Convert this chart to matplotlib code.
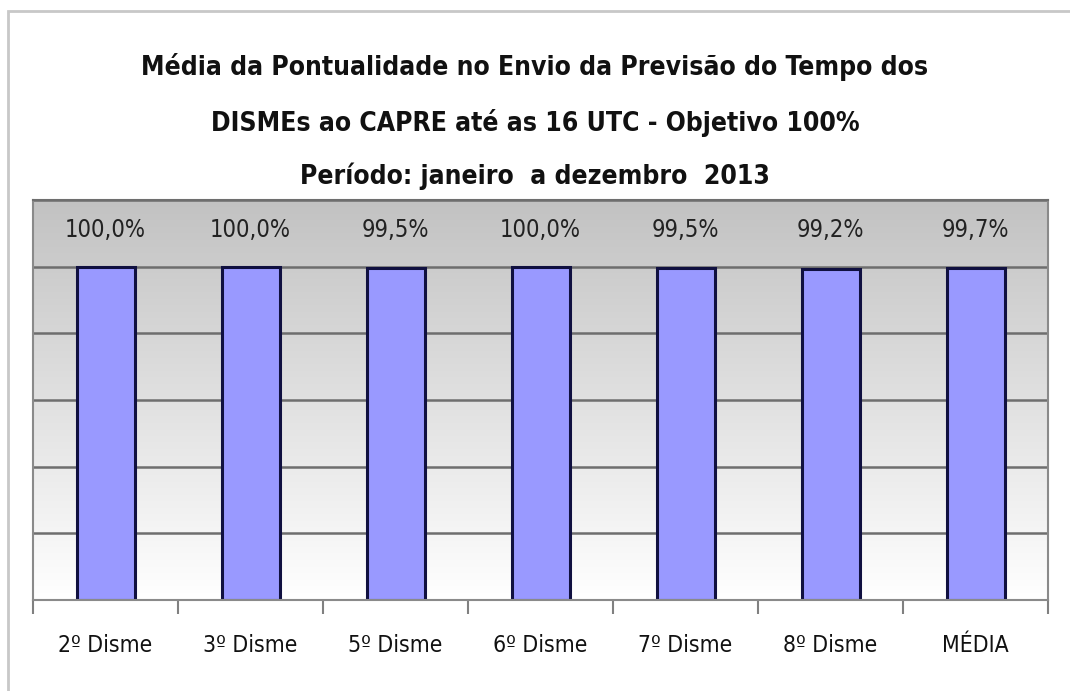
import numpy as np
import matplotlib.pyplot as plt
from matplotlib.colors import LinearSegmentedColormap
from matplotlib.patches import Rectangle

categories = ['2º Disme', '3º Disme', '5º Disme', '6º Disme', '7º Disme', '8º Disme', 'MÉDIA']
values = [100.0, 100.0, 99.5, 100.0, 99.5, 99.2, 99.7]
labels = ['100,0%', '100,0%', '99,5%', '100,0%', '99,5%', '99,2%', '99,7%']
title_lines = ['Média da Pontualidade no Envio da Previsão do Tempo dos',
               'DISMEs ao CAPRE até as 16 UTC - Objetivo 100%',
               'Período: janeiro  a dezembro  2013']

FONT = ['DejaVu Sans']
STRETCH = 'condensed'

fig = plt.figure(figsize=(10.7, 6.91), dpi=100, facecolor='white')
ax = fig.add_axes([33 / 1070, 91 / 691, 1015 / 1070, 400 / 691])

x = np.arange(len(categories))
ax.set_xlim(-0.5, len(categories) - 0.5)
ax.set_ylim(0, 120)

# gray-to-white gradient background like the old Excel chart
grad = np.linspace(0.0, 1.0, 256).reshape(-1, 1)
cmap = LinearSegmentedColormap.from_list('g', ['#ffffff', '#c2c2c2'])
ax.imshow(grad, extent=(-0.5, len(categories) - 0.5, 0, 120), aspect='auto',
          cmap=cmap, origin='lower', zorder=0, vmin=0, vmax=1)

for yv in range(20, 121, 20):
    ax.axhline(yv, color='#6e6e6e', lw=1.8, zorder=1)

ax.bar(x, values, width=0.4, color='#9999ff', edgecolor='#101040', linewidth=2.2, zorder=2)

for xi, lab in zip(x, labels):
    ax.text(xi, 111, lab, ha='center', va='center', fontsize=17, family=FONT,
            fontstretch=STRETCH, color='#222222', zorder=3)

ax.set_yticks([])
ax.set_xticks(np.arange(-0.5, len(categories), 1.0))
ax.set_xticklabels([])
ax.tick_params(axis='x', direction='out', length=10, width=1.5, color='#808080')
for xi, cat in zip(x, categories):
    ax.text(xi, -13.5, cat, ha='center', va='center', fontsize=16.5, family=FONT,
            fontstretch=STRETCH, color='#111111', clip_on=False)

for s in ax.spines.values():
    s.set_color('#8a8a8a')
    s.set_linewidth(1.5)
ax.spines['top'].set_color('#6e6e6e')

title_y = [67, 123, 176]
for line, yp in zip(title_lines, title_y):
    fig.text(0.5, 1 - yp / 691, line, ha='center', va='center', fontsize=19,
             fontweight='bold', family=FONT, fontstretch=STRETCH, color='#111111')

# outer frame
fig.patches.append(Rectangle((8 / 1070, -0.01), 1.02, 1 - 11 / 691 + 0.01,
                             transform=fig.transFigure, fill=False,
                             edgecolor='#c8c8c8', linewidth=2))

fig.savefig('out.png', dpi=100, facecolor='white')
